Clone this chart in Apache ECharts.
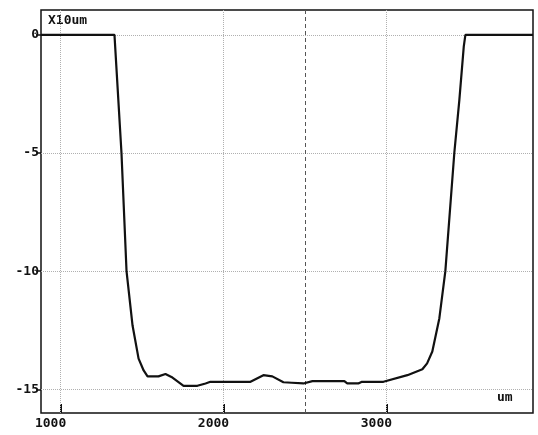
<!DOCTYPE html>
<html>
<head>
<meta charset="utf-8">
<script src="https://cdn.jsdelivr.net/npm/echarts@6/dist/echarts.min.js"></script>
<style>
	html, body { margin: 0; padding: 0; background: #fff; }
	#chart { width: 538px; height: 435px; }
</style>
</head>
<body>
<div id="chart"></div>
<script>
// profile trace, position (um) vs depth (x10um)
const positions = [880, 1331, 1374, 1405, 1442, 1479, 1510, 1534, 1601, 1644, 1687, 1755, 1840, 1890, 1920,
	2166, 2245, 2300, 2368, 2420, 2491, 2546, 2742, 2760, 2828, 2850, 2982, 3129, 3221, 3250, 3282,
	3325, 3362, 3417, 3448, 3475, 3485, 3900];
const depths = [0, 0, -5, -10, -12.3, -13.7, -14.2, -14.45, -14.45, -14.35, -14.5, -14.85, -14.85, -14.75, -14.68,
	-14.68, -14.4, -14.45, -14.7, -14.72, -14.75, -14.65, -14.65, -14.75, -14.75, -14.68, -14.68, -14.4, -14.15, -13.9, -13.4,
	-12.0, -10, -5, -2.75, -0.5, 0, 0];
const xTicks = [1000, 2000, 3000];
const yTicks = [0, -5, -10, -15];
const centerMark = 2500;

const font = 'DejaVu Sans Mono';
const myChart = echarts.init(document.getElementById('chart'));

const gridLines = [];
for (const v of xTicks) gridLines.push({ xAxis: v });
for (const v of yTicks) gridLines.push({ yAxis: v });

const option = {
	animation: false,
	grid: {
		left: 41, right: 5, top: 10, bottom: 22,
		show: true, borderColor: '#111', borderWidth: 1.5, backgroundColor: '#fff',
	},
	xAxis: {
		type: 'value', min: 880, max: 3900,
		splitLine: { show: false },
		axisLine: { show: false, onZero: false },
		axisTick: { show: true, inside: true, length: 9, customValues: xTicks, lineStyle: { color: '#111', width: 2 } },
		axisLabel: {
			customValues: xTicks, margin: 4, padding: [0, 20, 0, 0],
			formatter: (v) => String(v),
			fontFamily: font, fontWeight: 'bold', fontSize: 13, color: '#111',
		},
	},
	yAxis: {
		type: 'value', min: -16, max: 1.05,
		splitLine: { show: false },
		axisLine: { show: false, onZero: false },
		axisTick: { show: true, length: 5, customValues: yTicks, lineStyle: { color: '#111', width: 1.5 } },
		axisLabel: {
			customValues: yTicks, margin: 2,
			fontFamily: font, fontWeight: 'bold', fontSize: 13, color: '#111',
		},
	},
	graphic: [
		{ type: 'text', left: 48, top: 14, style: { text: 'X10um', fontFamily: font, fontWeight: 'bold', fontSize: 13, fill: '#111' } },
		{ type: 'text', left: 489, top: 389, style: { text: 'um', fontFamily: font, fontWeight: 'bold', fontSize: 13, fill: '#111', backgroundColor: '#fff', padding: [2, 8] } },
	],
	series: [
		{
			type: 'line', data: [], silent: true,
			markLine: {
				symbol: 'none', silent: true, label: { show: false },
				lineStyle: { color: '#b0b0b0', type: 'dotted', width: 1 },
				data: gridLines,
			},
		},
		{
			type: 'line', data: [], silent: true,
			markLine: {
				symbol: 'none', silent: true, label: { show: false },
				lineStyle: { color: '#555', type: [4, 3], width: 1 },
				data: [{ xAxis: centerMark }],
			},
		},
		{
			type: 'line', symbol: 'none', z: 5,
			lineStyle: { color: '#111', width: 2.2 },
			data: positions.map((x, i) => [x, depths[i]]),
		},
	],
};
myChart.setOption(option);
</script>
</body>
</html>
